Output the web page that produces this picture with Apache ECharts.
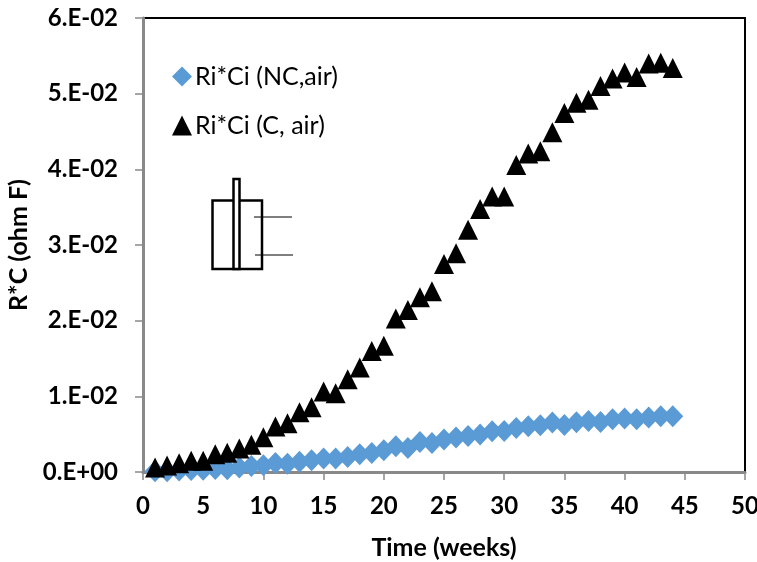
<!DOCTYPE html>
<html><head><meta charset="utf-8">
<style>html,body{margin:0;padding:0;background:#fff}#c{width:757px;height:562px}</style>
<script src="https://cdn.jsdelivr.net/npm/echarts@6/dist/echarts.min.js"></script>
</head><body><div id="c"></div>
<script>
const weeks = [1,2,3,4,5,6,7,8,9,10,11,12,13,14,15,16,17,18,19,20,21,22,23,24,25,26,27,28,29,30,31,32,33,34,35,36,37,38,39,40,41,42,43,44];
const ncAir = [0.0001,0.0001,0.0002,0.00025,0.0003,0.0004,0.00035,0.0006,0.0008,0.00089,0.00119,0.0011,0.00137,0.00155,0.00177,0.00177,0.00198,0.00234,0.00251,0.00287,0.0034,0.00318,0.00397,0.00384,0.00428,0.00455,0.00476,0.00495,0.00538,0.00542,0.00582,0.00604,0.00618,0.00653,0.00622,0.00657,0.00675,0.00662,0.00697,0.00706,0.00697,0.0072,0.00737,0.00737];
const cAir = [0.0006,0.00085,0.00115,0.0015,0.0015,0.00234,0.00256,0.0031,0.0036,0.0046,0.006,0.00644,0.0079,0.00855,0.01063,0.0104,0.01226,0.0138,0.016,0.0167,0.0203,0.0214,0.0231,0.0239,0.0275,0.0289,0.032,0.03475,0.0364,0.0364,0.04057,0.0421,0.0424,0.0449,0.04745,0.0488,0.0492,0.051,0.052,0.0528,0.0522,0.054,0.0541,0.0534];
const yTickLabels = ['0.E+00','1.E-02','2.E-02','3.E-02','4.E-02','5.E-02','6.E-02'];
const seriesNames = ['Ri*Ci (NC,air)','Ri*Ci (C, air)'];
const FONT = 'Lato';
const GRAY = '#898989';
const pair = a => a.map((v,i)=>[weeks[i],v]);
const chart = echarts.init(document.getElementById('c'),null,{renderer:'canvas'});
const axisCommon = {
  nameLocation:'middle',
  nameTextStyle:{fontFamily:FONT,fontWeight:'bold',fontSize:25,color:'#000'},
  splitLine:{show:false},
  axisLine:{show:true,onZero:false,lineStyle:{color:GRAY,width:3}},
  axisTick:{show:true,length:8,lineStyle:{color:GRAY,width:1.5}},
  axisLabel:{fontFamily:FONT,fontWeight:'bold',fontSize:24,color:'#000'}
};
chart.setOption({
  animation:false,
  backgroundColor:'#fff',
  grid:{left:143,right:12,top:18,bottom:90,outerBoundsMode:'none',show:true,borderColor:'#000',borderWidth:2,backgroundColor:'transparent'},
  xAxis:Object.assign({},axisCommon,{type:'value',min:0,max:50,interval:5,name:'Time (weeks)',nameGap:63,
    axisLabel:Object.assign({},axisCommon.axisLabel,{margin:22})}),
  yAxis:Object.assign({},axisCommon,{type:'value',min:0,max:0.06,interval:0.01,name:'R*C (ohm F)',nameGap:102,
    axisLabel:Object.assign({},axisCommon.axisLabel,{margin:25,formatter:v=>yTickLabels[Math.round(v*100)]})}),
  legend:{orient:'vertical',left:172,top:64,itemGap:24,itemWidth:20,itemHeight:20,padding:0,
    textStyle:{fontFamily:FONT,fontSize:25,color:'#000',padding:[0,0,0,-2]},
    data:[{name:seriesNames[0],icon:'diamond'},{name:seriesNames[1],icon:'triangle'}]},
  series:[
    {name:seriesNames[0],type:'scatter',data:pair(ncAir),symbol:'diamond',symbolSize:[21,22],clip:false,itemStyle:{color:'#5B9BD5',opacity:1},z:2},
    {name:seriesNames[1],type:'scatter',data:pair(cAir),symbol:'triangle',symbolSize:[20,20],clip:false,itemStyle:{color:'#000',opacity:1},z:3}
  ],
  graphic:[
    {type:'rect',shape:{x:212.5,y:200.5,width:49.5,height:68.5},style:{fill:'#fff',stroke:'#000',lineWidth:2.5},z:10},
    {type:'rect',shape:{x:233.5,y:179,width:6,height:90},style:{fill:'#fff',stroke:'#000',lineWidth:2.5},z:11},
    {type:'line',shape:{x1:254,y1:217,x2:292,y2:217},style:{stroke:'#000',lineWidth:1},z:12},
    {type:'line',shape:{x1:255,y1:255,x2:293,y2:255},style:{stroke:'#000',lineWidth:1},z:12}
  ]
});
</script></body></html>
